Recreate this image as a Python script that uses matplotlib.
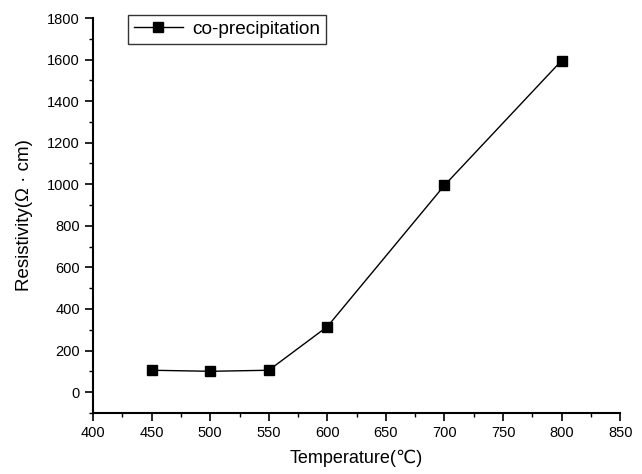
import matplotlib
matplotlib.use("Agg")
import matplotlib.pyplot as plt
from matplotlib.ticker import MultipleLocator

plt.rcParams['font.family'] = ['Liberation Sans', 'DejaVu Sans']

temperature = [450, 500, 550, 600, 700, 800]
resistivity = [105, 100, 105, 315, 995, 1595]
xticks = [400, 450, 500, 550, 600, 650, 700, 750, 800, 850]
yticks = [0, 200, 400, 600, 800, 1000, 1200, 1400, 1600, 1800]

fig = plt.figure(figsize=(6.42, 4.74), dpi=100)
ax = fig.add_axes([0.145, 0.129, 0.821, 0.833])

ax.plot(temperature, resistivity, color='black', linewidth=1.0,
        marker='s', markersize=6.5, markerfacecolor='black',
        markeredgecolor='black', label='co-precipitation')

ax.set_xlim(400, 850)
ax.set_ylim(-100, 1800)
ax.set_xticks(xticks)
ax.set_yticks(yticks)
ax.xaxis.set_minor_locator(MultipleLocator(25))
ax.yaxis.set_minor_locator(MultipleLocator(100))
ax.spines['top'].set_visible(False)
ax.spines['right'].set_visible(False)
for s in ['left', 'bottom']:
    ax.spines[s].set_linewidth(1.5)
ax.tick_params(which='major', direction='out', length=6, width=1.2, labelsize=10.5)
ax.tick_params(which='minor', direction='out', length=3, width=1.0)

ax.set_xlabel('Temperature(℃)', fontsize=13, labelpad=7)
ax.set_ylabel('Resistivity(Ω · cm)', fontsize=13.5, labelpad=10)

leg = ax.legend(loc='upper left', bbox_to_anchor=(0.066, 1.008), borderaxespad=0,
                fontsize=13.7, frameon=True, fancybox=False, edgecolor='black',
                handlelength=2.6, handletextpad=0.5, borderpad=0.3)
leg.get_frame().set_linewidth(1.0)

fig.savefig('out.png', dpi=100)
